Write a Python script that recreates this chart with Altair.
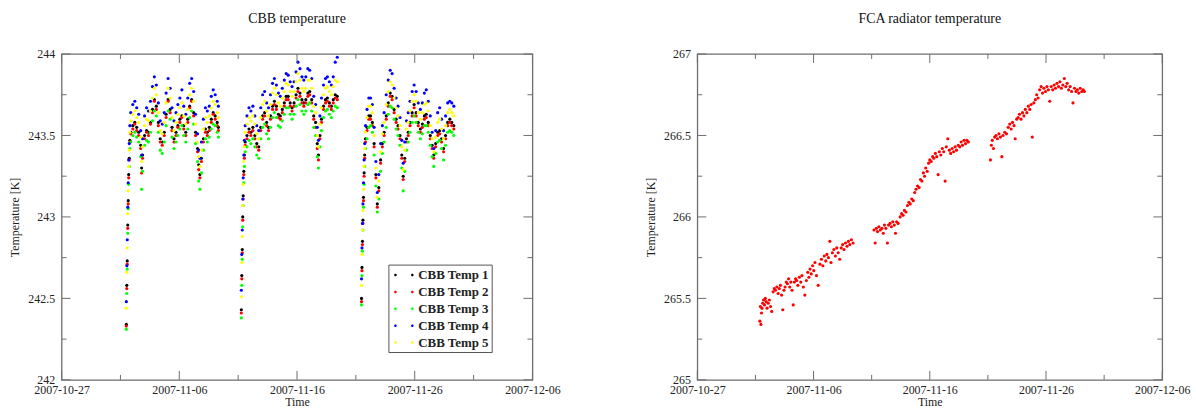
import altair as alt
import pandas as pd

# ---------------- data ----------------
BASE = pd.Timestamp("2007-10-27")

# days since 2007-10-27 00:00, shared by the five CBB series
cbb_days = [
    5.50, 5.54, 5.58, 5.62, 5.66, 5.70, 5.75, 5.80,
    5.88, 6.05, 6.22, 6.38, 6.55, 6.72, 6.80, 6.88,
    7.05, 7.22, 7.38, 7.55, 7.72, 7.88,
    8.05, 8.22, 8.38, 8.55, 8.72, 8.88,
    9.05, 9.22, 9.38, 9.55, 9.72, 9.88,
    10.05, 10.22, 10.38, 10.55, 10.72, 10.88,
    11.05, 11.22, 11.38, 11.55, 11.65, 11.75, 11.88,
    12.05, 12.22, 12.38, 12.55, 12.72, 12.88,
    13.05, 13.22, 13.32,
    15.27, 15.31, 15.35, 15.39, 15.43, 15.48, 15.53, 15.60,
    15.75, 15.92, 16.08, 16.25, 16.42, 16.58, 16.75, 16.92,
    17.08, 17.25, 17.42, 17.58, 17.75, 17.92,
    18.08, 18.25, 18.42, 18.58, 18.75, 18.92,
    19.08, 19.25, 19.42, 19.58, 19.75, 19.92,
    20.08, 20.25, 20.42, 20.58, 20.75, 20.92,
    21.08, 21.25, 21.42, 21.58, 21.72, 21.82, 21.95,
    22.08, 22.25, 22.42, 22.58, 22.75, 22.92,
    23.08, 23.25, 23.42,
    25.48, 25.52, 25.56, 25.60, 25.65, 25.70, 25.75, 25.82,
    25.95, 26.10, 26.25, 26.40, 26.55, 26.70, 26.82, 26.95,
    27.10, 27.25, 27.40, 27.58, 27.75, 27.92,
    28.08, 28.25, 28.42, 28.58, 28.75, 28.90,
    29.02, 29.15, 29.30, 29.45, 29.60, 29.78,
    29.95, 30.12, 30.30, 30.48, 30.65, 30.82,
    30.98, 31.15, 31.32, 31.48, 31.62, 31.78,
    31.95, 32.12, 32.28, 32.45, 32.62, 32.80,
    32.98, 33.15, 33.32,
]

cbb_temp1 = [
    242.34, 242.58, 242.73, 242.95, 243.10, 243.26, 243.36, 243.47,
    243.52, 243.56, 243.58, 243.55, 243.52, 243.44, 243.30, 243.38,
    243.50, 243.53, 243.52, 243.58, 243.66, 243.72,
    243.68, 243.58, 243.48, 243.46, 243.52, 243.63,
    243.72, 243.66, 243.55, 243.48, 243.52, 243.56,
    243.60, 243.62, 243.56, 243.52, 243.60, 243.68,
    243.72, 243.64, 243.52, 243.42, 243.32, 243.26, 243.36,
    243.48, 243.54, 243.52, 243.55, 243.60, 243.64,
    243.62, 243.58, 243.55,
    242.43, 242.64, 242.80, 243.00, 243.13, 243.28, 243.38, 243.46,
    243.50, 243.54, 243.52, 243.55, 243.50, 243.45, 243.43, 243.55,
    243.62, 243.64, 243.58, 243.55, 243.62, 243.68,
    243.71, 243.68, 243.63, 243.62, 243.66, 243.70,
    243.74, 243.74, 243.70, 243.67, 243.70, 243.75,
    243.79, 243.76, 243.72, 243.70, 243.72, 243.76,
    243.77, 243.72, 243.62, 243.58, 243.45, 243.38, 243.50,
    243.60, 243.68, 243.72, 243.73, 243.70, 243.68,
    243.72, 243.75, 243.74,
    242.50, 242.69, 242.85, 242.98, 243.12, 243.27, 243.38, 243.48,
    243.55, 243.62, 243.62, 243.58, 243.45, 243.26, 243.08, 243.18,
    243.35, 243.45, 243.52, 243.62, 243.70, 243.76,
    243.74, 243.66, 243.60, 243.56, 243.50, 243.38,
    243.25, 243.36, 243.48, 243.52, 243.58, 243.64,
    243.69, 243.64, 243.58, 243.54, 243.57, 243.62,
    243.63, 243.58, 243.50, 243.44, 243.38, 243.45,
    243.52, 243.53, 243.48, 243.42, 243.50, 243.58,
    243.60, 243.58, 243.56,
]

cbb_temp2 = [
    242.33, 242.56, 242.71, 242.93, 243.08, 243.24, 243.35, 243.46,
    243.51, 243.54, 243.57, 243.53, 243.50, 243.42, 243.27, 243.36,
    243.48, 243.52, 243.50, 243.57, 243.64, 243.71,
    243.66, 243.56, 243.46, 243.44, 243.50, 243.61,
    243.71, 243.64, 243.53, 243.46, 243.50, 243.55,
    243.58, 243.61, 243.54, 243.50, 243.58, 243.67,
    243.71, 243.62, 243.50, 243.40, 243.29, 243.24, 243.34,
    243.46, 243.52, 243.50, 243.53, 243.58, 243.63,
    243.60, 243.56, 243.53,
    242.41, 242.62, 242.78, 242.98, 243.11, 243.26, 243.36, 243.44,
    243.48, 243.52, 243.50, 243.53, 243.48, 243.43, 243.41, 243.53,
    243.60, 243.62, 243.56, 243.53, 243.60, 243.66,
    243.69, 243.66, 243.61, 243.60, 243.64, 243.68,
    243.72, 243.72, 243.68, 243.65, 243.68, 243.73,
    243.77, 243.74, 243.70, 243.68, 243.70, 243.74,
    243.75, 243.70, 243.60, 243.55, 243.42, 243.35, 243.48,
    243.58, 243.66, 243.70, 243.71, 243.68, 243.66,
    243.70, 243.73, 243.72,
    242.48, 242.67, 242.83, 242.96, 243.10, 243.25, 243.36, 243.46,
    243.53, 243.60, 243.60, 243.56, 243.43, 243.24, 243.06, 243.16,
    243.33, 243.43, 243.50, 243.60, 243.68, 243.74,
    243.72, 243.64, 243.58, 243.54, 243.48, 243.36,
    243.23, 243.34, 243.46, 243.50, 243.56, 243.62,
    243.67, 243.62, 243.56, 243.52, 243.55, 243.60,
    243.61, 243.56, 243.48, 243.42, 243.36, 243.43,
    243.50, 243.51, 243.46, 243.40, 243.48, 243.56,
    243.58, 243.56, 243.54,
]

cbb_temp3 = [
    242.31, 242.53, 242.68, 242.90, 243.05, 243.20, 243.31, 243.42,
    243.46, 243.50, 243.52, 243.49, 243.46, 243.37, 243.17, 243.28,
    243.44, 243.47, 243.46, 243.52, 243.59, 243.65,
    243.62, 243.52, 243.41, 243.39, 243.46, 243.56,
    243.65, 243.60, 243.49, 243.42, 243.46, 243.50,
    243.54, 243.56, 243.50, 243.46, 243.54, 243.61,
    243.65, 243.57, 243.45, 243.34, 243.22, 243.17, 243.27,
    243.41, 243.48, 243.46, 243.49, 243.54, 243.57,
    243.56, 243.52, 243.49,
    242.38, 242.58, 242.74, 242.94, 243.07, 243.21, 243.31, 243.40,
    243.43, 243.47, 243.45, 243.48, 243.43, 243.38, 243.36, 243.48,
    243.55, 243.57, 243.51, 243.48, 243.55, 243.61,
    243.64, 243.61, 243.56, 243.55, 243.59, 243.63,
    243.67, 243.67, 243.63, 243.60, 243.63, 243.68,
    243.72, 243.69, 243.65, 243.63, 243.65, 243.69,
    243.70, 243.65, 243.55, 243.50, 243.37, 243.30, 243.43,
    243.53, 243.61, 243.65, 243.66, 243.63, 243.61,
    243.65, 243.68, 243.67,
    242.46, 242.64, 242.79, 242.92, 243.06, 243.20, 243.31, 243.42,
    243.48, 243.55, 243.56, 243.52, 243.38, 243.19, 243.03, 243.11,
    243.28, 243.39, 243.46, 243.55, 243.63, 243.68,
    243.67, 243.60, 243.54, 243.50, 243.44, 243.30,
    243.16, 243.28, 243.41, 243.46, 243.52, 243.58,
    243.62, 243.58, 243.52, 243.48, 243.51, 243.56,
    243.56, 243.52, 243.44, 243.37, 243.31, 243.39,
    243.46, 243.47, 243.42, 243.35, 243.44, 243.52,
    243.53, 243.52, 243.50,
]

cbb_temp4 = [
    242.48, 242.70, 242.86, 243.06, 243.21, 243.35, 243.45, 243.56,
    243.64, 243.69, 243.71, 243.67, 243.63, 243.53, 243.38, 243.48,
    243.62, 243.67, 243.65, 243.71, 243.80, 243.86,
    243.81, 243.70, 243.59, 243.57, 243.64, 243.76,
    243.85, 243.79, 243.67, 243.59, 243.64, 243.69,
    243.73, 243.78, 243.68, 243.63, 243.73, 243.82,
    243.85, 243.77, 243.63, 243.51, 243.41, 243.36, 243.46,
    243.60, 243.67, 243.65, 243.68, 243.74, 243.78,
    243.75, 243.71, 243.68,
    242.55, 242.77, 242.92, 243.11, 243.24, 243.38, 243.47, 243.56,
    243.62, 243.67, 243.65, 243.68, 243.62, 243.56, 243.53, 243.67,
    243.75, 243.77, 243.70, 243.67, 243.75, 243.82,
    243.85, 243.81, 243.76, 243.74, 243.79, 243.84,
    243.88, 243.87, 243.83, 243.80, 243.83, 243.89,
    243.95, 243.91, 243.86, 243.84, 243.86, 243.91,
    243.90, 243.85, 243.74, 243.69, 243.55, 243.47, 243.62,
    243.73, 243.81, 243.85, 243.86, 243.83, 243.81,
    243.86, 243.95, 243.98,
    242.62, 242.81, 242.96, 243.08, 243.21, 243.35, 243.45, 243.56,
    243.66, 243.73, 243.73, 243.69, 243.55, 243.34, 243.15, 243.26,
    243.45, 243.56, 243.64, 243.75, 243.84, 243.90,
    243.88, 243.79, 243.73, 243.68, 243.61, 243.47,
    243.33, 243.46, 243.59, 243.64, 243.71, 243.77,
    243.81, 243.77, 243.70, 243.66, 243.70, 243.76,
    243.78, 243.71, 243.62, 243.52, 243.42, 243.53,
    243.64, 243.67, 243.60, 243.53, 243.62, 243.70,
    243.71, 243.70, 243.68,
]

cbb_temp5 = [
    242.44, 242.66, 242.81, 243.02, 243.16, 243.31, 243.41, 243.52,
    243.59, 243.63, 243.65, 243.61, 243.58, 243.49, 243.34, 243.43,
    243.56, 243.60, 243.59, 243.65, 243.73, 243.79,
    243.75, 243.64, 243.53, 243.51, 243.58, 243.70,
    243.79, 243.73, 243.61, 243.53, 243.58, 243.63,
    243.67, 243.70, 243.62, 243.57, 243.66, 243.75,
    243.79, 243.71, 243.57, 243.46, 243.37, 243.31, 243.41,
    243.54, 243.61, 243.58, 243.62, 243.67, 243.71,
    243.69, 243.64, 243.61,
    242.51, 242.72, 242.88, 243.07, 243.20, 243.34, 243.43, 243.52,
    243.57, 243.61, 243.59, 243.62, 243.57, 243.51, 243.48, 243.61,
    243.69, 243.71, 243.65, 243.62, 243.69, 243.76,
    243.79, 243.75, 243.70, 243.68, 243.73, 243.77,
    243.82, 243.81, 243.77, 243.74, 243.77, 243.83,
    243.88, 243.84, 243.79, 243.77, 243.79, 243.84,
    243.84, 243.79, 243.68, 243.64, 243.50, 243.43, 243.57,
    243.67, 243.75, 243.79, 243.80, 243.77, 243.75,
    243.80, 243.84, 243.83,
    242.58, 242.77, 242.92, 243.04, 243.17, 243.31, 243.42, 243.52,
    243.61, 243.68, 243.68, 243.64, 243.50, 243.30, 243.12, 243.22,
    243.40, 243.51, 243.58, 243.69, 243.77, 243.83,
    243.81, 243.73, 243.67, 243.62, 243.56, 243.43,
    243.29, 243.41, 243.54, 243.58, 243.65, 243.71,
    243.75, 243.71, 243.64, 243.60, 243.64, 243.69,
    243.70, 243.65, 243.56, 243.48, 243.40, 243.49,
    243.58, 243.60, 243.54, 243.48, 243.56, 243.64,
    243.66, 243.64, 243.62,
]

# FCA radiator temperature: days since 2007-10-27 and values
fca_days = [
    5.38, 5.42, 5.47, 5.52, 5.56, 5.62, 5.70, 5.78, 5.85, 5.92,
    6.00, 6.10, 6.20, 6.30, 6.40, 6.52, 6.62, 6.72, 6.84, 6.95,
    7.05, 7.15, 7.25, 7.35, 7.45, 7.55, 7.65, 7.75, 7.85, 7.95,
    8.05, 8.15, 8.25, 8.35, 8.45, 8.55, 8.65, 8.78, 8.90, 9.00,
    9.12, 9.25, 9.38, 9.50, 9.60, 9.70, 9.80, 9.92, 10.02, 10.12,
    10.25, 10.40, 10.55, 10.68, 10.80, 10.92, 11.05, 11.15, 11.28, 11.40,
    11.50, 11.62, 11.75, 11.88, 12.00, 12.12, 12.25, 12.38, 12.50, 12.62,
    12.75, 12.88, 13.00, 13.12, 13.25, 13.40,
    15.20, 15.30, 15.40, 15.50, 15.62, 15.75, 15.88, 16.00, 16.10, 16.22,
    16.35, 16.45, 16.58, 16.70, 16.82, 16.95, 17.05, 17.15, 17.28, 17.45,
    17.58, 17.70, 17.82, 17.95, 18.08, 18.20, 18.32, 18.45, 18.58, 18.70,
    18.82, 18.95, 19.08, 19.20, 19.32, 19.45, 19.55, 19.65, 19.78, 19.90,
    20.00, 20.12, 20.25, 20.35, 20.48, 20.60, 20.72, 20.82, 20.95, 21.08,
    21.20, 21.32, 21.42, 21.55, 21.68, 21.80, 21.92, 22.05, 22.18, 22.30,
    22.45, 22.58, 22.70, 22.82, 22.95, 23.08, 23.20, 23.32,
    25.22, 25.30, 25.38, 25.48, 25.58, 25.70, 25.82, 25.95, 26.08, 26.20,
    26.30, 26.45, 26.60, 26.75, 26.88, 27.00, 27.12, 27.25, 27.35, 27.48,
    27.60, 27.72, 27.85, 27.98, 28.10, 28.22, 28.35, 28.48, 28.60, 28.72,
    28.82, 28.95, 29.08, 29.20, 29.32, 29.45, 29.58, 29.70, 29.82, 29.95,
    30.08, 30.20, 30.32, 30.45, 30.58, 30.70, 30.82, 30.95, 31.08, 31.20,
    31.32, 31.45, 31.58, 31.70, 31.82, 31.95, 32.08, 32.20, 32.32, 32.45,
    32.58, 32.70, 32.82, 32.95, 33.08, 33.20, 33.30,
]
fca_temp = [
    265.36, 265.45, 265.34, 265.41, 265.44, 265.47, 265.49, 265.46, 265.50, 265.48,
    265.44, 265.47, 265.49, 265.45, 265.42, 265.54, 265.56, 265.55, 265.57, 265.53,
    265.56, 265.58, 265.52, 265.43, 265.55, 265.57, 265.60, 265.59, 265.62, 265.57,
    265.60, 265.55, 265.46, 265.60, 265.62, 265.61, 265.58, 265.63, 265.60, 265.64,
    265.57, 265.52, 265.61, 265.66, 265.63, 265.68, 265.65, 265.70, 265.67, 265.72,
    265.64, 265.58, 265.71, 265.74, 265.70, 265.76, 265.73, 265.77, 265.75, 265.85,
    265.72, 265.78, 265.80, 265.76, 265.81, 265.78, 265.74, 265.81, 265.83, 265.80,
    265.84, 265.82, 265.85, 265.83, 265.86, 265.84,
    265.92, 265.84, 265.93, 265.91, 265.94, 265.92, 265.93, 265.90, 265.95, 265.93,
    265.84, 265.95, 265.96, 265.94, 265.97, 265.95, 265.90, 265.97, 265.96, 266.00,
    266.02, 266.01, 266.04, 266.03, 266.07, 266.09, 266.08, 266.11, 266.10, 266.15,
    266.17, 266.19, 266.18, 266.23, 266.22, 266.27, 266.25, 266.30, 266.28, 266.33,
    266.35, 266.34, 266.37, 266.36, 266.39, 266.37, 266.26, 266.40, 266.38, 266.42,
    266.40, 266.22, 266.43, 266.48, 266.41, 266.39, 266.42, 266.40, 266.43, 266.41,
    266.44, 266.43, 266.46, 266.44, 266.47, 266.45, 266.47, 266.46,
    266.35, 266.44, 266.47, 266.42, 266.49, 266.50, 266.48, 266.51, 266.49, 266.37,
    266.50, 266.52, 266.51, 266.55, 266.57, 266.54, 266.58, 266.56, 266.48, 266.60,
    266.61, 266.63, 266.60, 266.64, 266.62, 266.66, 266.64, 266.68, 266.66, 266.69,
    266.49, 266.70, 266.72, 266.75, 266.73, 266.78, 266.80, 266.76, 266.79, 266.77,
    266.80, 266.78, 266.71, 266.80, 266.78, 266.81, 266.79, 266.82, 266.80, 266.83,
    266.79, 266.81, 266.85, 266.80, 266.82, 266.78, 266.80, 266.77, 266.70, 266.79,
    266.77, 266.78, 266.76, 266.79, 266.77, 266.78, 266.77,
]

series_names = ["CBB Temp 1", "CBB Temp 2", "CBB Temp 3", "CBB Temp 4", "CBB Temp 5"]
series_colors = ["#000000", "#ff0000", "#00ff00", "#0000ff", "#ffff00"]

x_major = ["2007-10-27", "2007-11-06", "2007-11-16", "2007-11-26", "2007-12-06"]
x_minor = ["2007-11-01", "2007-11-11", "2007-11-21", "2007-12-01"]
cbb_y_major = [242, 242.5, 243, 243.5, 244]
cbb_y_minor = [242.25, 242.75, 243.25, 243.75]
fca_y_major = [265, 265.5, 266, 266.5, 267]
fca_y_minor = [265.25, 265.75, 266.25, 266.75]

# ---------------- tables ----------------
cbb_time = BASE + pd.to_timedelta(cbb_days, unit="D")
cbb_df = pd.concat(
    [
        pd.DataFrame({"time": cbb_time, "temp": vals, "series": name})
        for name, vals in zip(
            series_names, [cbb_temp1, cbb_temp2, cbb_temp3, cbb_temp4, cbb_temp5]
        )
    ],
    ignore_index=True,
)
fca_df = pd.DataFrame(
    {"time": BASE + pd.to_timedelta(fca_days, unit="D"), "temp": fca_temp}
)

FONT = "Liberation Serif"
FRAME = "#6e6e6e"
TEXT = "#222222"
MAJ, MIN = 9, 5


def dt(s):
    ts = pd.Timestamp(s)
    return alt.DateTime(year=ts.year, month=ts.month, date=ts.day)


X_DOMAIN = [dt(x_major[0]), dt(x_major[-1])]


def panel(points, color, ydom, ymaj, ymin, title, w, h):
    xs = alt.Scale(domain=X_DOMAIN)
    ys = alt.Scale(domain=ydom, nice=False, zero=False)
    x_axis = alt.Axis(
        values=[dt(v) for v in x_major],
        format="%Y-%m-%d",
        title="Time",
        ticks=False,
        domain=False,
        grid=False,
        labelPadding=5,
        titlePadding=1,
        labelFlush=False,
        labelOverlap=False,
    )
    y_axis = alt.Axis(
        values=ymaj,
        format="~g",
        title="Temperature [K]",
        ticks=False,
        domain=False,
        grid=False,
        labelPadding=7,
        titlePadding=6,
        labelFlush=False,
        labelOverlap=False,
    )

    enc = dict(
        x=alt.X("time:T", scale=xs, axis=x_axis, title="Time"),
        y=alt.Y("temp:Q", scale=ys, axis=y_axis, title="Temperature [K]"),
    )
    if color is not None:
        enc["color"] = color
        pts = alt.Chart(points).mark_circle(size=10, opacity=1).encode(**enc)
    else:
        pts = alt.Chart(points).mark_circle(size=10, opacity=1, color="#ff0000").encode(**enc)

    xt_maj = pd.DataFrame({"time": pd.to_datetime(x_major)})
    xt_min = pd.DataFrame({"time": pd.to_datetime(x_minor)})
    yt_maj = pd.DataFrame({"temp": ymaj})
    yt_min = pd.DataFrame({"temp": ymin})

    def xticks(df, L):
        base = alt.Chart(df).mark_rule(color=FRAME, strokeWidth=1)
        xe = alt.X("time:T", scale=xs, axis=x_axis, title="Time")
        bottom = base.encode(x=xe, y=alt.value(h), y2=alt.value(h - L))
        top = base.encode(x=xe, y=alt.value(0), y2=alt.value(L))
        return [bottom, top]

    def yticks(df, L):
        base = alt.Chart(df).mark_rule(color=FRAME, strokeWidth=1)
        ye = alt.Y("temp:Q", scale=ys, axis=y_axis, title="Temperature [K]")
        left = base.encode(y=ye, x=alt.value(0), x2=alt.value(L))
        right = base.encode(y=ye, x=alt.value(w), x2=alt.value(w - L))
        return [left, right]

    layers = (
        [pts] + xticks(xt_maj, MAJ) + xticks(xt_min, MIN) + yticks(yt_maj, MAJ) + yticks(yt_min, MIN)
    )
    return alt.layer(*layers).properties(
        width=w,
        height=h,
        title=alt.TitleParams(
            text=title,
            font=FONT,
            fontSize=14,
            fontWeight="normal",
            color="#111111",
            anchor="middle",
            frame="group",
            offset=22,
        ),
    )


# legend glyph: two small dots, as in the reference's legend
legend_symbol = (
    "M-0.55,0a0.15,0.15 0 1,0 0.3,0a0.15,0.15 0 1,0 -0.3,0"
    "M1.45,0a0.15,0.15 0 1,0 0.3,0a0.15,0.15 0 1,0 -0.3,0"
)

cbb_color = alt.Color(
    "series:N",
    scale=alt.Scale(domain=series_names, range=series_colors),
    legend=alt.Legend(
        title=None,
        orient="none",
        legendX=329,
        legendY=212,
        direction="vertical",
        fillColor="#ffffff",
        strokeColor="#555555",
        padding=2,
        symbolType=legend_symbol,
        symbolSize=289,
        symbolStrokeWidth=0,
        symbolOpacity=1,
        labelFont=FONT,
        labelFontSize=13,
        labelFontWeight="bold",
        labelColor="#222222",
        labelOffset=11,
        rowPadding=1,
    ),
)

W_L, W_R, H = 474, 468, 328

left = panel(cbb_df, cbb_color, [242, 244], cbb_y_major, cbb_y_minor, "CBB temperature", W_L, H)
right = panel(fca_df, None, [265, 267], fca_y_major, fca_y_minor, "FCA radiator temperature", W_R, H)

chart = (
    alt.hconcat(left, right, spacing=83)
    .properties(padding={"left": 8, "top": 10, "right": 5, "bottom": 1}, background="#ffffff")
    .configure_view(stroke=FRAME, strokeWidth=1.3)
    .configure_axis(
        labelFont=FONT,
        labelFontSize=12,
        labelColor=TEXT,
        titleFont=FONT,
        titleFontSize=12,
        titleFontWeight="normal",
        titleColor=TEXT,
    )
)

chart.save("out.html", embed_options={"renderer": "svg", "actions": False})
